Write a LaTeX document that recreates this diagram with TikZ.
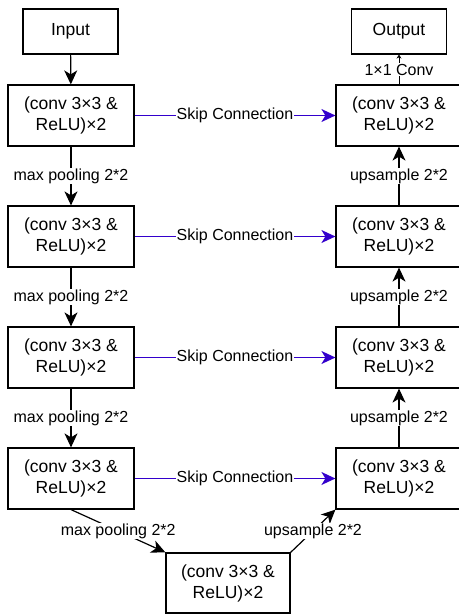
\documentclass[tikz,border=0pt]{standalone}
\usepackage{fontspec}
\setmainfont{Liberation Sans}
\usetikzlibrary{arrows.meta}
\definecolor{skipblue}{HTML}{3300CC}
\begin{document}
\begin{tikzpicture}[x=1pt,y=-1pt,
  every node/.style={inner sep=0pt},
  block/.style={draw, line width=1.2pt, minimum width=126pt, minimum height=61pt,
    align=center, font=\fontsize{17.5}{21}\selectfont},
  io/.style={draw, line width=1.2pt, minimum width=95pt, minimum height=45pt,
    font=\fontsize{17.5}{21}\selectfont},
  lbl/.style={fill=white, text=black, inner sep=1pt, font=\fontsize{16}{18}\selectfont},
  flow/.style={line width=1.2pt, -{Stealth[length=14pt,width=13pt,inset=4pt]}},
  skipline/.style={skipblue, line width=1.4pt, -{Stealth[length=14pt,width=13pt,inset=4pt]}},
  thin/.style={line width=0.8pt, -{Stealth[length=4pt,width=5pt]}}]
\useasboundingbox (0,0) rectangle (458,615);
\fill[white] (0,0) rectangle (458,615);

% contracting path
\node[io] (in) at (70.5,31.5) {Input};
\node[block] (l1) at (71,115.5) {(conv 3×3 \&\\ReLU)×2};
\node[block] (l2) at (71,236.5) {(conv 3×3 \&\\ReLU)×2};
\node[block] (l3) at (71,357.5) {(conv 3×3 \&\\ReLU)×2};
\node[block] (l4) at (71,478.5) {(conv 3×3 \&\\ReLU)×2};

% bottleneck
\node[block, minimum width=124pt, minimum height=60pt] (b) at (228,583) {(conv 3×3 \&\\ReLU)×2};

% expanding path
\node[io] (out) at (399,31.5) {Output};
\node[block] (r1) at (399,115.5) {(conv 3×3 \&\\ReLU)×2};
\node[block] (r2) at (399,236.5) {(conv 3×3 \&\\ReLU)×2};
\node[block] (r3) at (399,357.5) {(conv 3×3 \&\\ReLU)×2};
\node[block] (r4) at (399,478.5) {(conv 3×3 \&\\ReLU)×2};

% downward arrows
\draw[flow] (in) -- (l1);
\draw[flow] (l1) -- node[lbl] {max pooling 2*2} (l2);
\draw[flow] (l2) -- node[lbl] {max pooling 2*2} (l3);
\draw[flow] (l3) -- node[lbl] {max pooling 2*2} (l4);
\draw[flow] (l4.south) -- node[lbl] {max pooling 2*2} (b.north west);

% upward arrows
\draw[flow] (b.north east) -- node[lbl] {upsample 2*2} (r4.south west);
\draw[flow] (r4) -- node[lbl] {upsample 2*2} (r3);
\draw[flow] (r3) -- node[lbl] {upsample 2*2} (r2);
\draw[flow] (r2) -- node[lbl] {upsample 2*2} (r1);
\draw[thin] (r1) -- node[lbl] {1×1 Conv} (out);

% skip connections
\foreach \i in {1,2,3,4}
  \draw[skipline] (l\i) -- node[lbl] {Skip Connection} (r\i);
\end{tikzpicture}
\end{document}
